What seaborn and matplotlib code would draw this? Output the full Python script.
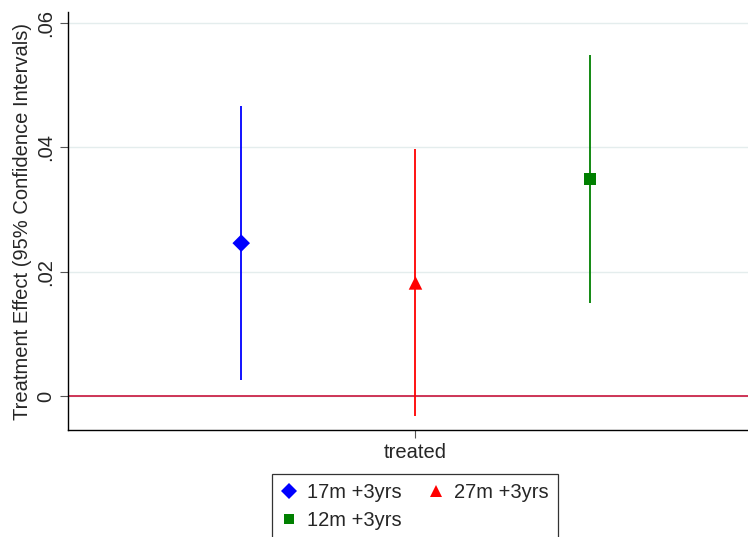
import matplotlib
matplotlib.use("Agg")
import matplotlib.pyplot as plt
import seaborn as sns
import pandas as pd

# coefficient estimates with 95% CI, one per model
models = ['17m +3yrs', '27m +3yrs', '12m +3yrs']
estimates = [0.0246, 0.0182, 0.0349]
ci_low = [0.0026, -0.0032, 0.0150]
ci_high = [0.0467, 0.0397, 0.0549]
colors = ['#0000ff', '#ff0000', '#008000']
markers = ['D', '^', 's']
sizes = [80, 95, 70]

df = pd.DataFrame({'model': models, 'est': estimates, 'lo': ci_low, 'hi': ci_high})
df['x'] = range(-1, len(df) - 1)

sns.set_style('white')
plt.rcParams['font.family'] = ['Liberation Sans', 'DejaVu Sans']
fs = 14.5

fig = plt.figure(figsize=(7.48, 5.37), dpi=100)
ax = fig.add_axes([68 / 748, 107 / 537, 680 / 748, 418 / 537])

# confidence intervals
ax.vlines(df['x'], df['lo'], df['hi'], colors=colors, linewidth=1.3, zorder=2)
ax.axhline(0, color='#c8143c', linewidth=1.2, zorder=1)

sns.scatterplot(data=df, x='x', y='est', hue='model', style='model',
                palette=dict(zip(models, colors)),
                markers=dict(zip(models, markers)),
                size='model', sizes=dict(zip(models, sizes)),
                linewidth=0, ax=ax, zorder=3, legend=False)

ax.set_xlim(-1.994, 1.908)
ax.set_ylim(-0.00547, 0.0618)
ax.set_xticks([0])
ax.set_xticklabels(['treated'])
ax.set_yticks([0, 0.02, 0.04, 0.06])
ax.set_yticklabels(['0', '.02', '.04', '.06'], rotation=90, va='center')
ax.tick_params(axis='both', labelsize=fs, length=6, width=0.8,
               color='#555555', left=True, bottom=True, pad=3)
ax.set_xlabel('')
ax.set_ylabel('Treatment Effect (95% Confidence Intervals)', fontsize=fs, labelpad=3)
ax.yaxis.grid(True, color='#e4eded', linewidth=1.0)
ax.set_axisbelow(True)
for side in ['top', 'right']:
    ax.spines[side].set_visible(False)
for side in ['left', 'bottom']:
    ax.spines[side].set_color('black')
    ax.spines[side].set_linewidth(1.0)

# legend filled row by row (matplotlib fills columns first)
order = [0, 2, 1]
handles = [plt.Line2D([], [], linestyle='none', marker=markers[i], color=colors[i],
                      markersize=[8, 9, 7.5][i], markeredgewidth=0)
           for i in order]
labels = [models[i] for i in order]
leg = fig.legend(handles, labels, loc='upper center', ncol=2,
                 bbox_to_anchor=(415 / 748, 1 - 474 / 537),
                 bbox_transform=fig.transFigure, borderaxespad=0,
                 fontsize=fs, frameon=True, fancybox=False,
                 handlelength=0.8, handletextpad=0.5, columnspacing=1.3,
                 labelspacing=0.45, borderpad=0.45)
leg.get_frame().set_edgecolor('black')
leg.get_frame().set_linewidth(0.9)

fig.savefig('out.png', dpi=100)
